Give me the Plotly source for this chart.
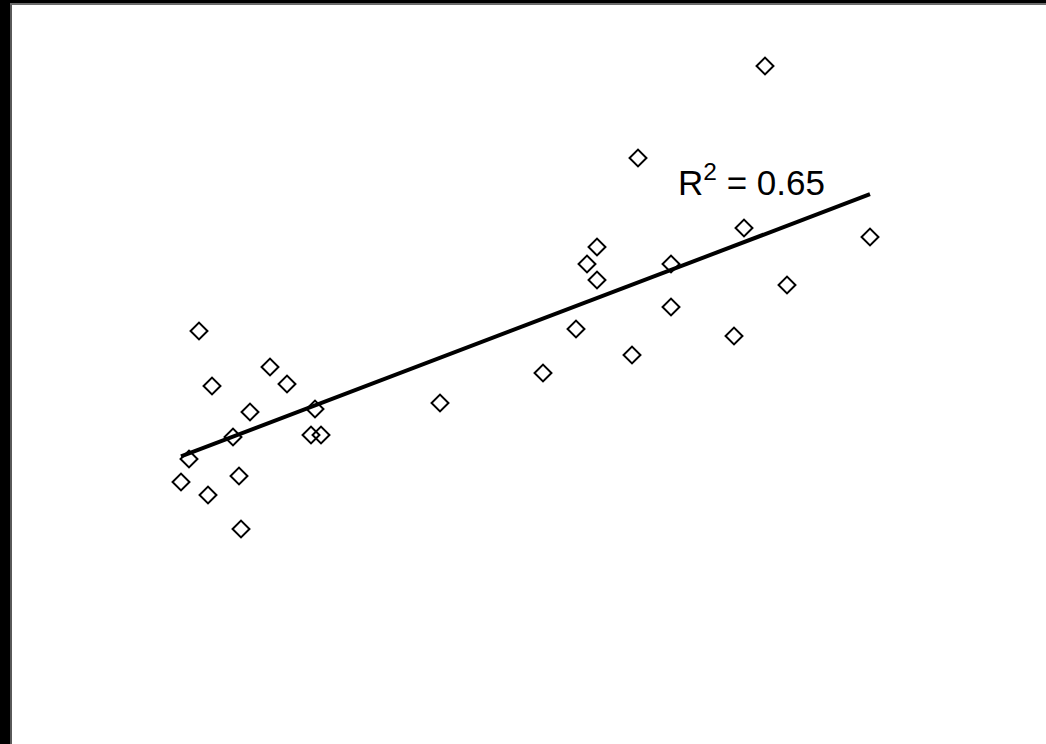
import numpy as np
import plotly.graph_objects as go

# scatter values (arbitrary units)
x_vals = [18.7, 20.0, 25.8, 27.5, 23.8, 22.1, 17.7, 16.9, 19.6, 22.7,
          22.9, 30.3, 29.9, 30.9, 42.8, 53.1, 56.4, 57.5, 58.5, 58.5,
          62.0, 62.6, 65.9, 65.9, 72.2, 73.2, 75.3, 77.5, 85.8]
y_vals = [41.3, 35.8, 37.7, 36.0, 33.2, 30.7, 28.5, 26.2, 24.9, 26.8,
          21.5, 33.5, 30.9, 30.9, 34.1, 37.1, 41.5, 48.0, 49.7, 46.4,
          38.9, 58.6, 48.0, 43.7, 40.8, 51.6, 67.8, 45.9, 50.7]
r2_label = "R<sup>2</sup> = 0.65"

x_arr = np.array(x_vals)
y_arr = np.array(y_vals)
slope, intercept = np.polyfit(x_arr, y_arr, 1)
fit_x = np.array([x_arr.min(), x_arr.max()])
fit_y = slope * fit_x + intercept

fig = go.Figure()
fig.add_trace(go.Scatter(
    x=x_vals, y=y_vals, mode="markers",
    marker=dict(symbol="diamond-open", size=13, color="black",
                line=dict(width=2, color="black")),
    showlegend=False, hoverinfo="skip"))
fig.add_trace(go.Scatter(
    x=fit_x, y=fit_y, mode="lines",
    line=dict(color="black", width=4),
    showlegend=False, hoverinfo="skip"))

fig.add_annotation(x=66.4, y=56.4, xref="x", yref="y", text=r2_label,
                   showarrow=False, xanchor="left", yanchor="middle",
                   font=dict(family="Liberation Sans, Arial", size=35, color="black"))

fig.update_xaxes(range=[0, 103.4], showgrid=False, zeroline=False,
                 showticklabels=False, ticks="", side="top",
                 showline=True, linecolor="#6b6b6b", linewidth=2)
fig.update_yaxes(range=[0, 73.9], showgrid=False, zeroline=False,
                 showticklabels=False, ticks="",
                 showline=True, linecolor="#5a5a5a", linewidth=2)

fig.update_layout(width=1046, height=744,
                  margin=dict(l=12, r=0, t=5, b=0),
                  paper_bgcolor="black", plot_bgcolor="white")

# drop the browser's default body margin so the figure sits at the page corner
fig.write_html("out.html", config={"displayModeBar": False},
               post_script="document.body.style.margin='0';")
